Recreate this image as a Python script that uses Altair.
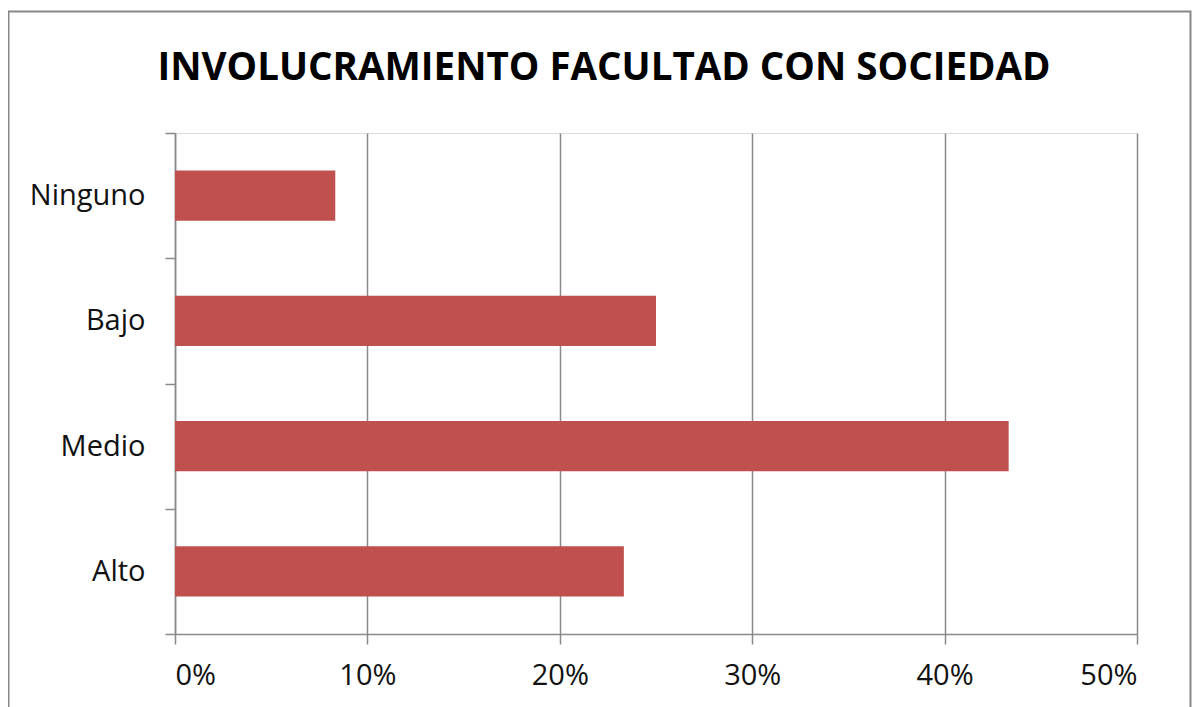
import altair as alt
import pandas as pd

title_text = "INVOLUCRAMIENTO FACULTAD CON SOCIEDAD"
categories = ["Ninguno", "Bajo", "Medio", "Alto"]
values = [0.0833, 0.25, 0.4333, 0.2333]
x_ticks = [0, 0.1, 0.2, 0.3, 0.4, 0.5]

df = pd.DataFrame({"nivel": categories, "pct": values})

W, H = 962, 501
PAD_L, PAD_T, PAD_R, PAD_B = 167, 125, 55, 73
GRAY = "#8a8a8a"
FONT = "Open Sans"

one = pd.DataFrame({"t": [title_text]})

frame = alt.Chart(one).mark_rect(
    fillOpacity=0, stroke="#878787", strokeWidth=2
).encode(
    x=alt.value(-166.5), x2=alt.value(W + PAD_R - 1.5),
    y=alt.value(-121.5), y2=alt.value(H + PAD_B + 30),
)

title = alt.Chart(one).mark_text(
    font=FONT, fontSize=38.5, fontWeight="bold", color="black",
    align="center", baseline="alphabetic",
).encode(text="t:N", x=alt.value(429), y=alt.value(-53))

bars = alt.Chart(df).mark_bar(color="#C0504D", height={"band": 0.4}).encode(
    y=alt.Y(
        "nivel:N", sort=categories,
        scale=alt.Scale(paddingInner=0, paddingOuter=0),
        axis=alt.Axis(
            title=None, tickBand="extent", tickSize=10, tickColor=GRAY, tickWidth=1.5,
            domainColor=GRAY, domainWidth=1.5, labelFont=FONT, labelFontSize=29,
            labelColor="#111111", labelPadding=20, grid=False,
        ),
    ),
    x=alt.X(
        "pct:Q",
        scale=alt.Scale(domain=[0, 0.5], nice=False),
        axis=alt.Axis(
            title=None, values=x_ticks, format=".0%", grid=True, gridColor=GRAY,
            gridWidth=1.5, gridOpacity=1, tickSize=10, tickColor=GRAY, tickWidth=1.5,
            domainColor=GRAY, domainWidth=1.5, labelFont=FONT, labelFontSize=29,
            labelColor="#111111", labelPadding=17,
        ),
    ),
)

chart = alt.layer(frame, title, bars).properties(
    width=W, height=H,
    autosize=alt.AutoSizeParams(type="none"),
    padding={"left": PAD_L, "top": PAD_T, "right": PAD_R, "bottom": PAD_B},
).configure_view(stroke="transparent", strokeWidth=0).configure(background="white")

chart.save("out.html", embed_options={"renderer": "svg", "actions": False})
